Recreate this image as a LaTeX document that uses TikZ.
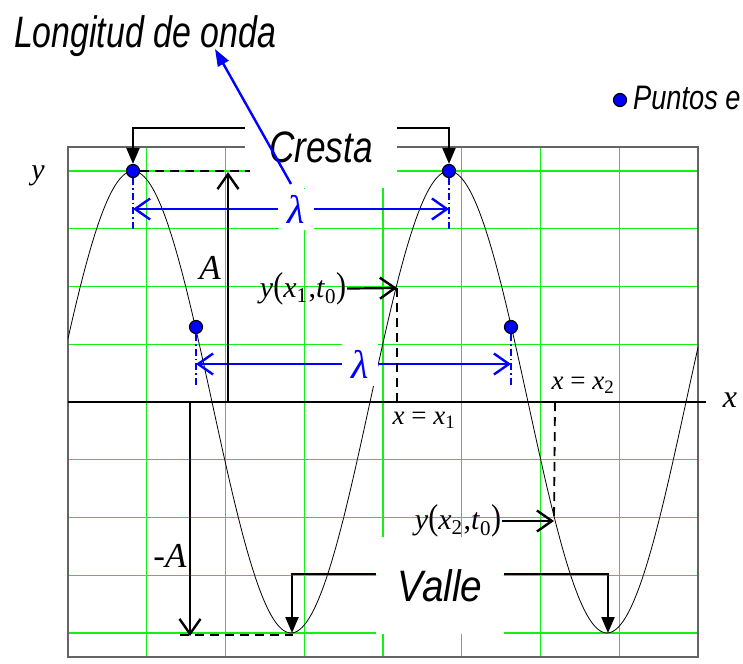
\documentclass[tikz,border=0pt]{standalone}
\usepackage{fontspec}
\setmainfont{Liberation Serif}
\newfontfamily\hand{Liberation Sans}
\usetikzlibrary{arrows.meta}
\definecolor{gridg}{RGB}{20,240,20}
\definecolor{frameg}{RGB}{100,100,100}
\begin{document}
\begin{tikzpicture}[x=1pt,y=-1pt,
  gridline/.style={gridg, line width=1.3pt},
  brk/.style={line width=2.2pt, -{Triangle[length=16pt,width=13pt]}},
  openarr/.style={-{Straight Barb[length=15pt,width=21pt,line width=2.4pt]}},
  lam/.style={blue, line width=2.8pt, openarr},
  lamlbl/.style={fill=white, text=blue, inner sep=0pt, font=\itshape\fontsize{40}{40}\selectfont},
  dotp/.style={circle, fill=blue, draw=black, line width=1.2pt, inner sep=0pt, minimum size=13pt},
  dashdot/.style={blue, line width=1.5pt, dash pattern=on 7pt off 3pt on 1.5pt off 3pt},
  dsh/.style={black, line width=1.8pt, dash pattern=on 9pt off 6pt},
  handbox/.style={fill=white, inner sep=0pt},
  mathlbl/.style={font=\fontsize{30}{30}\selectfont, inner sep=1pt},
  biglbl/.style={font=\itshape\fontsize{35}{35}\selectfont, inner sep=1pt},
  eqlbl/.style={font=\fontsize{27}{27}\selectfont, inner sep=1pt},
]
\useasboundingbox (0,0) rectangle (743,663);
% grid
\foreach \k in {1,...,7} \draw[gridline] ({68+78.75*\k},147) -- ({68+78.75*\k},657);
\foreach \k in {0,...,8} \draw[gridline] (68,{171+57.75*\k}) -- (698,{171+57.75*\k});
\draw[frameg, line width=1.5pt] (68,147) rectangle (698,657);
% white label boxes
\node[handbox, minimum width=152pt, minimum height=82pt] (cresta) at (321,147)
  {\scalebox{0.8}[1]{\hand\itshape\fontsize{44}{44}\selectfont Cresta}};
\node[handbox, minimum width=128pt, minimum height=97pt] (valle) at (440,585.5)
  {\scalebox{0.88}[1]{\hand\itshape\fontsize{44}{44}\selectfont Valle}};
% wave
\draw[black, line width=0.8pt] plot[domain=68:698, samples=240, smooth] (\x,{402-231*cos(1.139241*(\x-133))});
% axis
\node[font=\itshape\fontsize{32}{32}\selectfont] (xl) at (730,400) {x};
\node[font=\itshape\fontsize{30}{30}\selectfont] (yl) at (38,176) {y};
\coordinate (ax0) at (68,402);
\coordinate (ax1) at (706,402);
\draw[black, line width=2.2pt] (ax0) -- (ax1);
% points
\node[dotp] (p1) at (133,171) {};
\node[dotp] (p2) at (449,171) {};
\node[dotp] (q1) at (196,327) {};
\node[dotp] (q2) at (511,327) {};
\coordinate (p1b) at (133,230);
\coordinate (p2b) at (449,230);
\coordinate (q1b) at (196,386);
\coordinate (q2b) at (511,386);
\draw[dashdot] (p1.south) -- (p1b);
\draw[dashdot] (p2.south) -- (p2b);
\draw[dashdot] (q1.south) -- (q1b);
\draw[dashdot] (q2.south) -- (q2b);
% lambda arrows
\node[lamlbl, minimum width=35pt, minimum height=41pt] (l1) at (296,209) {λ};
\node[lamlbl, minimum width=36pt, minimum height=44pt] (l2) at (360,364) {λ};
\coordinate (la1) at (133,209);
\coordinate (lb1) at (449,209);
\coordinate (la2) at (196,364);
\coordinate (lb2) at (511,364);
\draw[lam] (l1) -- (la1);
\draw[lam] (l1) -- (lb1);
\draw[lam] (l2) -- (la2);
\draw[lam] (l2) -- (lb2);
% title
\node[inner sep=0pt] (title) at (145,36)
  {\scalebox{0.77}[1]{\hand\itshape\fontsize{44}{44}\selectfont Longitud de onda}};
\coordinate (ts) at (291,184);
\coordinate (tt) at (215,49);
\draw[blue, line width=2.4pt, -{Triangle[length=17pt,width=12pt]}] (ts) -- (tt);
% puntos en fase
\node[dotp] (pk) at (620,100) {};
\node[anchor=west, inner sep=0pt] (puntos) at (633,98)
  {\scalebox{0.8}[1]{\hand\itshape\fontsize{34}{34}\selectfont Puntos e}};
% cresta brackets
\coordinate (kl) at (cresta.west |- 0,128);
\coordinate (kr) at (cresta.east |- 0,128);
\draw[brk] (kl) -| (p1.north);
\draw[brk] (kr) -| (p2.north);
% valle brackets
\coordinate (vl) at (valle.west |- 0,574);
\coordinate (vr) at (valle.east |- 0,574);
\coordinate (v1) at (292,633);
\coordinate (v2) at (608,633);
\draw[brk] (vl) -| (v1);
\draw[brk] (vr) -| (v2);
% amplitude
\coordinate (a0) at (228,402);
\coordinate (a1) at (228,172);
\draw[black, line width=2.8pt, openarr] (a0) -- (a1);
\node[biglbl] (alab) at (210,268) {A};
\coordinate (dA) at (250,171);
\draw[dsh] (p1.east) -- (dA);
\coordinate (m0) at (190,402);
\coordinate (m1) at (190,636);
\draw[black, line width=2.2pt, openarr] (m0) -- (m1);
\node[biglbl] (mlab) at (170,556) {-A};
\coordinate (dm0) at (180,635);
\coordinate (dm1) at (293,635);
\draw[dsh] (dm0) -- (dm1);
% y(x1,t0)
\node[mathlbl] (y1) at (303,289)
  {\textit{y}\scalebox{1}[1.2]{(}\textit{x}\textsubscript{1}\kern1pt,\textit{t}\textsubscript{0}\scalebox{1}[1.2]{)}};
\coordinate (y1t) at (397,288);
\coordinate (x1a) at (397,402);
\draw[black, line width=2.2pt, openarr] (y1) -- (y1t);
\draw[dsh] (y1t) -- (x1a);
\node[eqlbl] (x1l) at (424,420) {\textit{x} = \textit{x}\textsubscript{1}};
% y(x2,t0)
\node[mathlbl] (y2) at (458,521)
  {\textit{y}\scalebox{1}[1.2]{(}\textit{x}\textsubscript{2}\kern1pt,\textit{t}\textsubscript{0}\scalebox{1}[1.2]{)}};
\coordinate (y2t) at (554,521);
\coordinate (x2a) at (555,402);
\draw[black, line width=2.2pt, openarr] (y2) -- (y2t);
\draw[dsh] (x2a) -- (y2t);
\node[eqlbl] (x2l) at (583,385) {\textit{x} = \textit{x}\textsubscript{2}};
\end{tikzpicture}
\end{document}
